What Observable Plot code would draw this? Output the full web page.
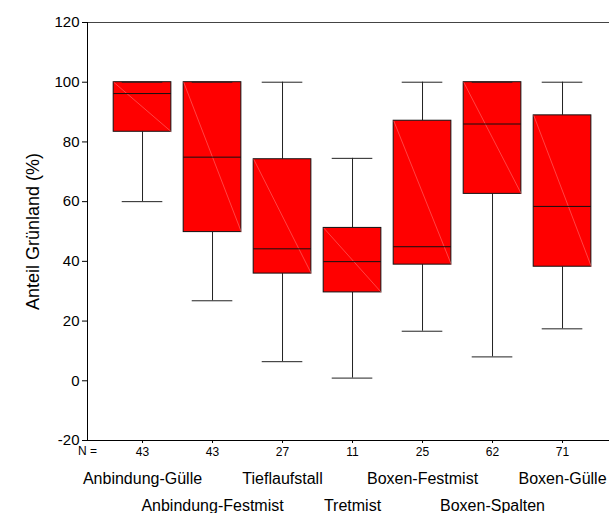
<!DOCTYPE html>
<html>
<head>
<meta charset="utf-8">
<script src="https://cdn.jsdelivr.net/npm/d3@7"></script>
<script src="https://cdn.jsdelivr.net/npm/@observablehq/plot@0.6"></script>
<style>
  html, body { margin: 0; padding: 0; background: #fff; }
  #chart svg { display: block; }
</style>
</head>
<body>
<div id="chart"></div>
<script>
const categories = ["Anbindung-Gülle", "Anbindung-Festmist", "Tieflaufstall", "Tretmist", "Boxen-Festmist", "Boxen-Spalten", "Boxen-Gülle"];
const nCounts    = [43, 43, 27, 11, 25, 62, 71];
const whiskerLow = [60, 26.8, 6.4, 0.9, 16.6, 8.0, 17.4];
const q1Values   = [83.4, 49.8, 35.9, 29.6, 38.9, 62.6, 38.2];
const medians    = [96.2, 74.9, 44.2, 39.9, 44.9, 86.0, 58.4];
const q3Values   = [100, 100, 74.2, 51.2, 87.1, 100, 88.9];
const whiskerHigh= [100, 100, 100, 74.5, 100, 100, 100];
const yTicks     = [-20, 0, 20, 40, 60, 80, 100, 120];

const rows = categories.map((c, i) => ({
  i, c, n: nCounts[i], lo: whiskerLow[i], q1: q1Values[i], med: medians[i], q3: q3Values[i], hi: whiskerHigh[i]
}));

const xDomain = [-0.786, 6.671];
const yDomain = [-20, 120];
const BOX = 0.412, CAP = 0.29;

const plot = Plot.plot({
  width: 609,
  height: 513,
  marginLeft: 87,
  marginRight: 0,
  marginTop: 22,
  marginBottom: 73,
  style: { fontFamily: "Arial, 'Liberation Sans', sans-serif", background: "#fff", color: "#000" },
  x: { type: "linear", domain: xDomain, range: [87, 609] },
  y: { domain: yDomain },
  marks: [
    // whiskers
    Plot.ruleX(rows, { x: "i", y1: "lo", y2: "q1", stroke: "#222", strokeWidth: 1 }),
    Plot.ruleX(rows, { x: "i", y1: "q3", y2: "hi", stroke: "#222", strokeWidth: 1 }),
    // boxes
    Plot.rect(rows, { x1: d => d.i - BOX, x2: d => d.i + BOX, y1: "q1", y2: "q3", fill: "#ff0000", stroke: "#111", strokeWidth: 1 }),
    // faint diagonal
    Plot.link(rows, { x1: d => d.i - BOX, y1: "q3", x2: d => d.i + BOX, y2: "q1", stroke: "#ff7070", strokeWidth: 0.6 }),
    // medians
    Plot.ruleY(rows, { y: "med", x1: d => d.i - BOX, x2: d => d.i + BOX, stroke: "#111", strokeWidth: 1 }),
    // caps
    Plot.ruleY(rows, { y: "lo", x1: d => d.i - CAP, x2: d => d.i + CAP, stroke: "#222", strokeWidth: 1 }),
    Plot.ruleY(rows, { y: "hi", x1: d => d.i - CAP, x2: d => d.i + CAP, stroke: "#222", strokeWidth: 1 }),
    // frame lines
    Plot.ruleY([yDomain[1]], { stroke: "#444", strokeWidth: 1 }),
    Plot.ruleY([yDomain[0]], { stroke: "#000", strokeWidth: 1 }),
    Plot.ruleX([xDomain[0]], { stroke: "#000", strokeWidth: 1 }),
    // axes
    Plot.axisY({ ticks: yTicks, tickFormat: d => String(d), tickSize: 5, tickPadding: 3, fontSize: 15, label: null }),
    Plot.axisX({ ticks: categories.map((_, i) => i), tickFormat: i => String(nCounts[i]), tickSize: 3, tickPadding: 4, fontSize: 12, label: null }),
    Plot.text(["N ="], { frameAnchor: "bottom-left", dy: 14, textAnchor: "middle", fontSize: 12 }),
    // category labels (staggered)
    Plot.text(rows, { x: "i", text: "c", frameAnchor: "bottom", fontSize: 16, filter: d => d.i % 2 === 0, dy: 38, lineAnchor: "middle" }),
    Plot.text(rows, { x: "i", text: "c", frameAnchor: "bottom", fontSize: 16, filter: d => d.i % 2 === 1, dy: 65, lineAnchor: "middle" }),
    // y label
    Plot.text(["Anteil Grünland (%)"], { frameAnchor: "left", dx: -54, rotate: -90, fontSize: 18, lineAnchor: "middle", textAnchor: "middle" })
  ]
});

document.getElementById("chart").appendChild(plot);
</script>
</body>
</html>
